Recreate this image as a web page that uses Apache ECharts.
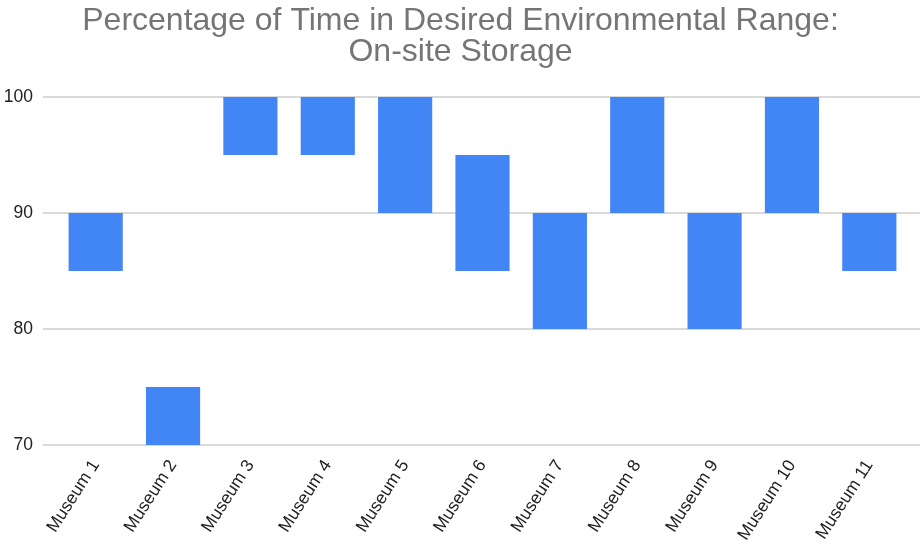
<!DOCTYPE html>
<html>
<head>
<meta charset="utf-8">
<script src="https://cdn.jsdelivr.net/npm/echarts@6/dist/echarts.min.js"></script>
<style>
  html, body { margin: 0; padding: 0; background: #fff; }
  #chart { width: 921px; height: 550px; }
</style>
</head>
<body>
<div id="chart"></div>
<script>
// Museums and the low/high bounds of time spent in the desired range (%)
const museums = ['Museum 1', 'Museum 2', 'Museum 3', 'Museum 4', 'Museum 5', 'Museum 6',
                 'Museum 7', 'Museum 8', 'Museum 9', 'Museum 10', 'Museum 11'];
const lowValues  = [85, 70, 95, 95, 90, 85, 80, 90, 80, 90, 85];
const highValues = [90, 75, 100, 100, 100, 95, 90, 100, 90, 100, 90];
const yTicks = [70, 80, 90, 100];

// floating bars: invisible base up to the low bound, visible span to the high bound
const spanValues = highValues.map((h, i) => h - lowValues[i]);

const chart = echarts.init(document.getElementById('chart'), null, { renderer: 'canvas' });

const yMin = yTicks[0], yMax = yTicks[yTicks.length - 1];
const yStep = yTicks[1] - yTicks[0];
const font = 'Liberation Sans, Arial, sans-serif';

chart.setOption({
  animation: false,
  title: {
    text: 'Percentage of Time in Desired Environmental Range:\nOn-site Storage',
    left: 'center',
    top: 1,
    textStyle: {
      fontFamily: font,
      fontSize: 32,
      fontWeight: 'normal',
      color: '#757575',
      lineHeight: 31
    }
  },
  grid: [
    // wide grid that carries the horizontal gridlines and value labels
    { left: 43, right: 1, top: 97, bottom: 105, containLabel: false },
    // inner grid holding the bars
    { left: 57, right: 13, top: 97, bottom: 105, containLabel: false }
  ],
  xAxis: [
    { gridIndex: 0, type: 'value', show: false, min: 0, max: 1 },
    {
      gridIndex: 1,
      type: 'category',
      data: museums,
      axisLine: { show: false },
      axisTick: { show: false },
      axisLabel: {
        rotate: 57,
        interval: 0,
        margin: 17,
        fontFamily: font,
        fontSize: 17.5,
        color: '#222'
      }
    }
  ],
  yAxis: [
    {
      gridIndex: 0,
      type: 'value',
      min: yMin,
      max: yMax,
      interval: yStep,
      axisLine: { show: false },
      axisTick: { show: false },
      axisLabel: { margin: 10, fontFamily: font, fontSize: 17.5, color: '#222' },
      splitLine: { lineStyle: { color: '#cccccc', width: 1.5 } }
    },
    {
      gridIndex: 1,
      type: 'value',
      min: yMin,
      max: yMax,
      interval: yStep,
      show: false,
      splitLine: { show: false }
    }
  ],
  series: [
    {
      name: 'base',
      type: 'bar',
      xAxisIndex: 1,
      yAxisIndex: 1,
      stack: 'range',
      barCategoryGap: '30%',
      itemStyle: { color: 'transparent' },
      emphasis: { disabled: true },
      data: lowValues
    },
    {
      name: 'range',
      type: 'bar',
      xAxisIndex: 1,
      yAxisIndex: 1,
      stack: 'range',
      barCategoryGap: '30%',
      itemStyle: { color: '#4285F4' },
      data: spanValues
    }
  ]
});
</script>
</body>
</html>
